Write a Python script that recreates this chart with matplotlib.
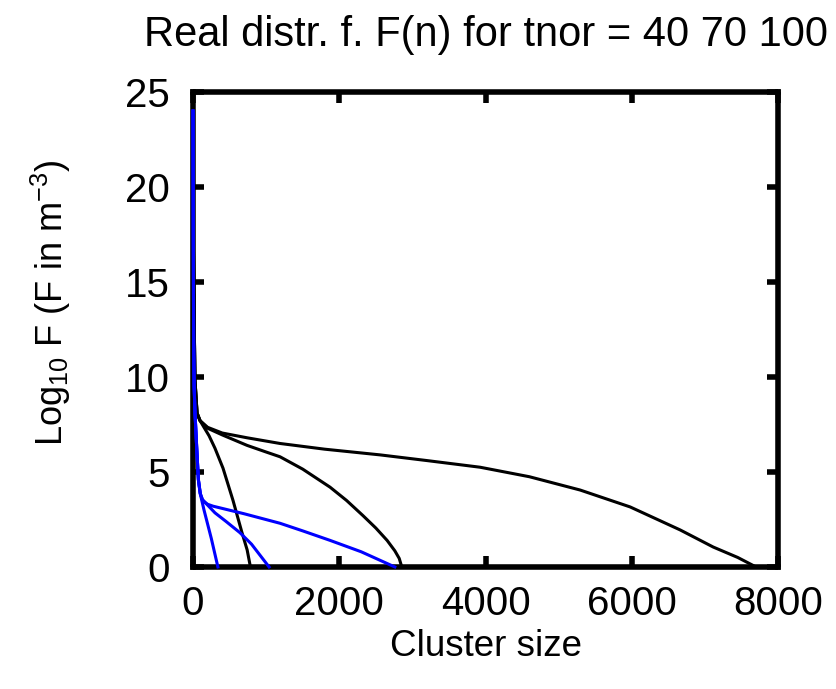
import matplotlib
matplotlib.use("Agg")
import matplotlib.pyplot as plt

# black curves (tnor = 40, 70, 100)
black_40_x = [0, 5, 14, 27, 55, 96, 150, 220, 300, 410, 547, 670, 740, 785]
black_40_y = [24, 17, 13.4, 9.8, 8.1, 7.7, 7.35, 6.9, 6.25, 5.2, 3.5, 1.8, 0.9, 0]
black_70_x = [0, 5, 14, 27, 55, 96, 200, 400, 739, 1000, 1190, 1500, 1874, 2100,
              2325, 2500, 2654, 2760, 2820, 2855]
black_70_y = [24, 17, 13.4, 9.8, 8.1, 7.7, 7.3, 6.95, 6.4, 6.05, 5.8, 5.15, 4.2,
              3.5, 2.7, 2.05, 1.4, 0.85, 0.45, 0]
black_100_x = [0, 5, 14, 27, 55, 96, 200, 400, 739, 1190, 1800, 2558, 3200, 3926,
               4600, 5294, 5978, 6662, 7114, 7450, 7700]
black_100_y = [24, 17, 13.4, 9.8, 8.1, 7.7, 7.35, 7.05, 6.8, 6.5, 6.2, 5.9, 5.6,
               5.25, 4.75, 4.05, 3.16, 1.95, 1.05, 0.5, 0]

# blue curves
blue_40_x = [0, 3, 8, 15, 27, 50, 73, 96, 150, 250, 340]
blue_40_y = [24, 18, 12, 9.5, 8.1, 6.3, 4.6, 3.9, 3.0, 1.5, 0]
blue_70_x = [0, 3, 8, 15, 27, 50, 73, 100, 130, 164, 300, 450, 643, 800, 1040]
blue_70_y = [24, 18, 12, 9.5, 8.1, 6.3, 4.6, 3.85, 3.55, 3.4, 2.85, 2.4, 1.8, 1.2, 0]
blue_100_x = [0, 3, 8, 15, 27, 50, 73, 100, 130, 200, 274, 700, 1190, 1500, 1874,
              2300, 2760]
blue_100_y = [24, 18, 12, 9.5, 8.1, 6.3, 4.6, 3.85, 3.5, 3.3, 3.2, 2.8, 2.3, 1.9,
              1.4, 0.8, 0]

plt.rcParams['font.family'] = ['Liberation Sans', 'DejaVu Sans']
plt.rcParams['mathtext.fontset'] = 'custom'
plt.rcParams['mathtext.rm'] = 'Liberation Sans'
plt.rcParams['mathtext.it'] = 'Liberation Sans'

fig = plt.figure(figsize=(8.36, 6.89), dpi=100)
ax = fig.add_axes([0.2309, 0.1771, 0.6997, 0.6894])

for xs, ys in [(black_40_x, black_40_y), (black_70_x, black_70_y), (black_100_x, black_100_y)]:
    ax.plot(xs, ys, color='black', lw=2.2, zorder=3, clip_on=False)
for xs, ys in [(blue_40_x, blue_40_y), (blue_70_x, blue_70_y), (blue_100_x, blue_100_y)]:
    ax.plot(xs, ys, color='#0000ff', lw=2.2, zorder=3, clip_on=False)

ax.set_xlim(0, 8000)
ax.set_ylim(0, 25)
ax.set_xticks([0, 2000, 4000, 6000, 8000])
ax.set_yticks([0, 5, 10, 15, 20, 25])
for s in ax.spines.values():
    s.set_linewidth(4)
ax.tick_params(direction='in', length=8, width=4, top=True, right=True,
               labelsize=29)
ax.tick_params(axis='x', pad=13)
ax.tick_params(axis='y', pad=17)

ax.set_xlabel('Cluster size', fontsize=26.5, labelpad=4)
ax.set_ylabel(r'Log$_{\mathrm{10}}$ F (F in m$^{\mathrm{-3}}$)', fontsize=26)
ax.yaxis.set_label_coords(-0.205, 0.556)
ax.set_title('Real distr. f. F(n) for tnor = 40 70 100', fontsize=30, pad=33)

fig.savefig('out.png', dpi=100)
